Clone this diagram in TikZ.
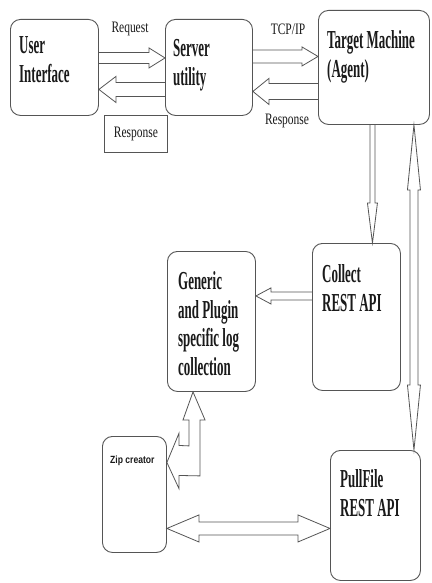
\documentclass[tikz,border=0pt]{standalone}
\usepackage{fontspec}
\setmainfont{Liberation Serif}
\newfontfamily\boxfont[FakeStretch=0.5]{Liberation Serif}
\newfontfamily\lblfont[FakeStretch=0.72]{Liberation Serif}
\newfontfamily\zipfont[FakeStretch=0.82]{Liberation Sans}
\usetikzlibrary{calc}
\definecolor{linegray}{HTML}{555555}
\definecolor{txtcol}{HTML}{1A1A1A}
\tikzset{
  box/.style={draw=linegray, line width=0.9bp, rounded corners=10bp, inner sep=0pt, anchor=north west},
  boxtext/.style={anchor=north west, inner sep=0pt, align=left, text=txtcol,
    font=\boxfont\bfseries\fontsize{26}{29}\selectfont},
  lbl/.style={inner sep=0pt, text=txtcol, font=\lblfont\fontsize{16}{18}\selectfont},
  arrowline/.style={draw=linegray, line width=0.8bp, line join=miter, miter limit=20},
}
% single block arrow: start, tip, shaft half width, head half width, head length
\newcommand\blockarrow[5]{%
  \coordinate (bh) at ($(#2)!#5!(#1)$);
  \draw[arrowline] ($(#1)!#3!90:(#2)$) -- ($(bh)!#3!90:(#2)$) -- ($(bh)!#4!90:(#2)$) -- (#2)
    -- ($(bh)!#4!-90:(#2)$) -- ($(bh)!#3!-90:(#2)$) -- ($(#1)!#3!-90:(#2)$);
}
% double block arrow: end A, end B, shaft half width, head half width, head length
\newcommand\dblarrow[5]{%
  \coordinate (bha) at ($(#1)!#5!(#2)$);
  \coordinate (bhb) at ($(#2)!#5!(#1)$);
  \draw[arrowline] (#1) -- ($(bha)!#4!90:(#2)$) -- ($(bha)!#3!90:(#2)$) -- ($(bhb)!#3!90:(#2)$)
    -- ($(bhb)!#4!90:(#2)$) -- (#2) -- ($(bhb)!#4!-90:(#2)$) -- ($(bhb)!#3!-90:(#2)$)
    -- ($(bha)!#3!-90:(#2)$) -- ($(bha)!#4!-90:(#2)$) -- cycle;
}
\begin{document}
\begin{tikzpicture}[x=1bp,y=-1bp]
\useasboundingbox[fill=white] (0,0) rectangle (431,583);

% boxes
\node[box, minimum width=88bp, minimum height=96bp] (ui) at (10,19) {};
\node[box, minimum width=87bp, minimum height=96bp] (srv) at (165,19) {};
\node[box, minimum width=111bp, minimum height=114bp] (tgt) at (318,10) {};
\node[box, minimum width=88bp, minimum height=147bp] (coll) at (312,243) {};
\node[box, minimum width=88bp, minimum height=140bp] (gen) at (167,251) {};
\node[box, minimum width=64bp, minimum height=116bp] (zip) at (102,436) {};
\node[box, minimum width=90bp, minimum height=130bp] (pull) at (330,450) {};
\node[draw=linegray, line width=0.9bp, anchor=north west, inner sep=0pt,
      minimum width=63bp, minimum height=37bp, text=txtcol,
      font=\lblfont\fontsize{16}{18}\selectfont] (respbox) at (104,115) {Response};

% box texts
\node[boxtext] (tui) at (19,36) {User\\Interface};
\node[boxtext] (tsrv) at (173,39) {Server\\utility};
\node[boxtext] (ttgt) at (327,30) {Target Machine\\(Agent)};
\node[boxtext] (tcoll) at (322,264) {Collect\\REST API};
\node[boxtext] (tgen) at (178,271) {Generic\\and Plugin\\specific log\\collection};
\node[boxtext] (tpull) at (340,469) {PullFile\\REST API};
\node[anchor=north west, inner sep=0pt, text=txtcol,
      font=\zipfont\bfseries\fontsize{10.5}{12}\selectfont] (tzip) at (110,456) {Zip creator};

% labels
\node[lbl] (lreq) at (130,29) {Request};
\node[lbl] (ltcp) at (288,29) {TCP/IP};
\node[lbl] (lresp) at (287,121) {Response};

% arrow end points
\coordinate (reqS) at ($(ui.east)+(0,-9.5)$);
\coordinate (reqT) at (srv.west |- reqS);
\coordinate (rspS) at ($(srv.west)+(0,22)$);
\coordinate (rspT) at (ui.east |- rspS);
\coordinate (tcpS) at ($(srv.east)+(0,-11)$);
\coordinate (tcpT) at (tgt.west |- tcpS);
\coordinate (rs2S) at ($(tgt.west)+(0,24)$);
\coordinate (rs2T) at (srv.east |- rs2S);
\coordinate (dnS) at ($(tgt.south)+(-1.5,0)$);
\coordinate (dnT) at (dnS |- coll.north);
\coordinate (vA) at ($(tgt.south)+(40,0)$);
\coordinate (vB) at (vA |- pull.north);
\coordinate (cgS) at ($(coll.west)+(0,-21)$);
\coordinate (cgT) at (gen.east |- cgS);
\coordinate (zpA) at ($(zip.east)+(0,34)$);
\coordinate (zpB) at (pull.west |- zpA);

\blockarrow{reqS}{reqT}{5.5bp}{10bp}{16bp}
\blockarrow{rspS}{rspT}{7bp}{13bp}{17bp}
\blockarrow{tcpS}{tcpT}{6.5bp}{9.5bp}{16bp}
\blockarrow{rs2S}{rs2T}{8bp}{13bp}{16bp}
\blockarrow{dnS}{dnT}{2.5bp}{5bp}{40bp}
\blockarrow{cgS}{cgT}{4bp}{8bp}{15bp}
\dblarrow{vA}{vB}{4bp}{6.5bp}{65bp}
\dblarrow{zpA}{zpB}{6.5bp}{13.5bp}{32bp}

% bent arrow between zip creator and generic collection
\coordinate (lt) at ($(gen.south west)+(26,0)$);
\coordinate (lz) at ($(zip.east)+(0,-32)$);
\draw[arrowline] (lt) -- ($(lt)+(12,28)$) -- ($(lt)+(7,28)$) -- ($(lt)+(7,84)$)
  -- ($(lz)+(12,13)$) -- ($(lz)+(12,26)$) -- (lz) -- ($(lz)+(12,-29)$)
  -- ($(lz)+(12,-17)$) -- ($(lt)+(-4,54)$) -- ($(lt)+(-4,28)$) -- ($(lt)+(-10,28)$) -- cycle;
\end{tikzpicture}
\end{document}
